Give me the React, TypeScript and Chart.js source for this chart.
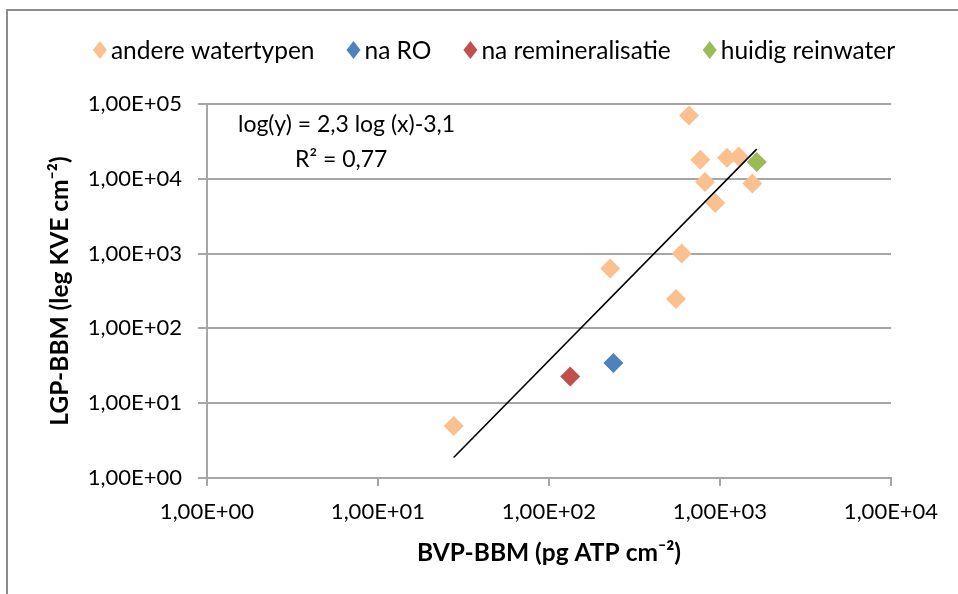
import { useEffect, useRef } from 'react';
import { Chart, registerables } from 'chart.js';

Chart.register(...registerables);

// Series data
const otherX = [659, 767, 1099, 1286, 817, 1545, 939, 597, 228, 553, 27.7];
const otherY = [70400, 18000, 19100, 19900, 9060, 8680, 4750, 1006, 634, 247, 4.96];
const roX = [238];
const roY = [34.5];
const remX = [133];
const remY = [22.8];
const reinX = [1640];
const reinY = [16800];
const trendX = [27.7, 1640];
const trendY = [1.88, 24900];

const xTicks = [1, 10, 100, 1000, 10000];
const yTicks = [1, 10, 100, 1000, 10000, 100000];

const seriesNames = ['andere watertypen', 'na RO', 'na remineralisatie', 'huidig reinwater'];
const seriesColors = ['#fac090', '#4f81bd', '#c0504d', '#9bbb59'];

const eqLine1 = 'log(y) = 2,3 log (x)-3,1';
const eqLine2 = 'R² = 0,77';
const xTitle = 'BVP-BBM (pg ATP cm⁻²)';
const yTitle = 'LGP-BBM (leg KVE cm⁻²)';

const FONT = 'Lato, "Open Sans", sans-serif';

function fmt(v: number): string {
  const e = Math.round(Math.log10(v));
  const sign = e < 0 ? '-' : '+';
  return '1,00E' + sign + String(Math.abs(e)).padStart(2, '0');
}

function pts(xs: number[], ys: number[]) {
  return xs.map((x, i) => ({ x, y: ys[i] }));
}

const legendPlugin = {
  id: 'customLegend',
  afterDraw(chart: any) {
    const ctx = chart.ctx;
    ctx.save();
    ctx.font = '24.5px ' + FONT;
    ctx.textBaseline = 'middle';
    ctx.textAlign = 'left';
    const gapMarker = 16;
    const gapItem = 34;
    const widths = seriesNames.map((n) => ctx.measureText(n).width);
    let total = 0;
    widths.forEach((w, i) => {
      total += gapMarker + w + (i < widths.length - 1 ? gapItem : 0);
    });
    let cx = 495 - total / 2;
    const cy = 50;
    seriesNames.forEach((n, i) => {
      const mx = cx + 5;
      ctx.fillStyle = seriesColors[i];
      ctx.beginPath();
      ctx.moveTo(mx, cy - 9);
      ctx.lineTo(mx + 7, cy);
      ctx.lineTo(mx, cy + 9);
      ctx.lineTo(mx - 7, cy);
      ctx.closePath();
      ctx.fill();
      ctx.fillStyle = '#000';
      ctx.fillText(n, cx + gapMarker, cy + 1);
      cx += gapMarker + widths[i] + gapItem;
    });
    ctx.restore();
  },
};

const eqPlugin = {
  id: 'equation',
  afterDatasetsDraw(chart: any) {
    const ctx = chart.ctx;
    const a = chart.chartArea;
    ctx.save();
    ctx.font = '23px ' + FONT;
    ctx.fillStyle = '#000';
    ctx.textBaseline = 'middle';
    ctx.textAlign = 'left';
    ctx.fillText(eqLine1, a.left + 31, a.top + 21);
    ctx.fillText(eqLine2, a.left + 88, a.top + 56);
    ctx.restore();
  },
};

export default function App() {
  const ref = useRef<HTMLCanvasElement | null>(null);

  useEffect(() => {
    if (!ref.current) return;
    const gridColor = '#a6a6a6';
    const chart = new Chart(ref.current, {
      type: 'scatter',
      data: {
        datasets: [
          {
            label: 'trend',
            data: pts(trendX, trendY),
            showLine: true,
            borderColor: '#000',
            borderWidth: 1.6,
            pointRadius: 0,
            order: 0,
          } as any,
          ...seriesNames.map((name, i) => ({
            label: name,
            data: pts([otherX, roX, remX, reinX][i], [otherY, roY, remY, reinY][i]),
            pointStyle: 'rectRot',
            pointRadius: 10,
            pointHoverRadius: 10,
            backgroundColor: seriesColors[i],
            borderColor: seriesColors[i],
            borderWidth: 0,
            order: 1,
          })),
        ],
      },
      options: {
        animation: false,
        responsive: false,
        events: [],
        layout: { padding: { left: 0, top: 104, right: 67, bottom: 0 } },
        plugins: {
          legend: { display: false },
          tooltip: { enabled: false },
        },
        scales: {
          x: {
            type: 'logarithmic',
            min: 1,
            max: 10000,
            afterBuildTicks: (s: any) => {
              s.ticks = xTicks.map((v) => ({ value: v }));
            },
            afterFit: (s: any) => {
              s.height = 116;
            },
            ticks: {
              callback: (v: any) => fmt(Number(v)),
              font: { family: FONT, size: 22 },
              color: '#000',
              padding: 13,
              maxRotation: 0,
              autoSkip: false,
            },
            grid: {
              drawOnChartArea: false,
              drawTicks: true,
              tickLength: 8,
              color: gridColor,
              lineWidth: 2,
            },
            border: { display: true, color: gridColor, width: 2 },
            title: {
              display: true,
              text: xTitle,
              color: '#000',
              font: { family: FONT, size: 24.5, weight: 'bold' },
              padding: { top: 0, bottom: 26 },
            },
          },
          y: {
            type: 'logarithmic',
            min: 1,
            max: 100000,
            afterBuildTicks: (s: any) => {
              s.ticks = yTicks.map((v) => ({ value: v }));
            },
            afterFit: (s: any) => {
              s.width = 207;
            },
            ticks: {
              callback: (v: any) => fmt(Number(v)),
              font: { family: FONT, size: 22 },
              color: '#000',
              padding: 16,
              autoSkip: false,
            },
            grid: {
              drawTicks: true,
              tickLength: 9,
              color: gridColor,
              lineWidth: 2,
            },
            border: { display: true, color: gridColor, width: 2 },
            title: {
              display: true,
              text: yTitle,
              color: '#000',
              font: { family: FONT, size: 24.5, weight: 'bold' },
              padding: { top: 45, bottom: 0 },
            },
          },
        },
      },
      plugins: [legendPlugin, eqPlugin],
    } as any);
    return () => chart.destroy();
  }, []);

  return (
    <div style={{ position: 'absolute', left: 0, top: 0, width: 958, height: 594, background: '#fff', overflow: 'hidden' }}>
      <div
        style={{
          position: 'absolute',
          left: 6,
          top: 9,
          width: 980,
          height: 620,
          border: '2px solid #8c8c8c',
          boxSizing: 'border-box',
        }}
      />
      <canvas ref={ref} width={958} height={594} style={{ position: 'absolute', left: 0, top: 0, width: 958, height: 594 }} />
    </div>
  );
}
